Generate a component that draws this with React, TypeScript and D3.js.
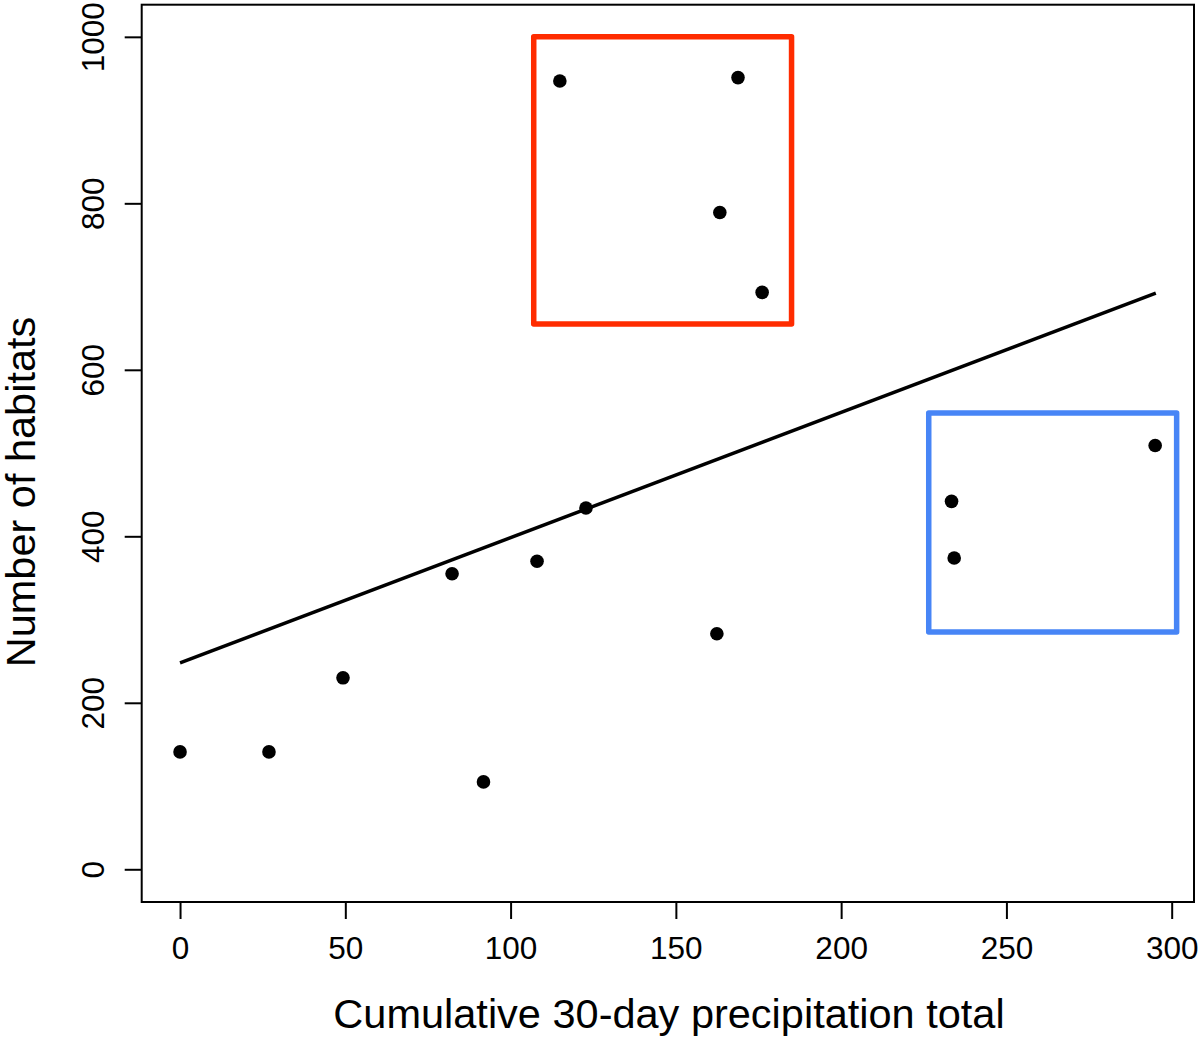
import { useEffect, useRef } from 'react'
import * as d3 from 'd3'

// precipitation (x) vs number of habitats (y)
const precip = [0, 26.9, 49.3, 82.3, 91.8, 108.0, 122.8, 114.9, 168.8, 163.3, 176.1, 162.4, 233.4, 234.2, 295.0]
const habitats = [141, 141, 230, 355, 105, 370, 434, 947, 951, 789, 693, 283, 442, 374, 509]

// fitted line endpoints
const fitX = [0, 295.2]
const fitY = [248, 692]

// highlighted regions [x0, x1, y0, y1]
const redBox = [107, 185, 655, 1000]
const blueBox = [226.5, 301.5, 285, 548]

const xTicks = [0, 50, 100, 150, 200, 250, 300]
const yTicks = [0, 200, 400, 600, 800, 1000]

export default function App() {
  const svgRef = useRef<SVGSVGElement>(null)

  useEffect(() => {
    if (!svgRef.current) return
    const svg = d3.select(svgRef.current)
    svg.selectAll('*').remove()

    const left = 141.7, right = 1194, top = 4.7, bottom = 902
    const font = '"Liberation Sans", Arial, Helvetica, sans-serif'

    const x = d3.scaleLinear().domain([-11.6, 306.75]).range([left, right])
    const y = d3.scaleLinear().domain([-39.3, 1038.6]).range([bottom, top])

    svg.append('rect')
      .attr('width', 1200)
      .attr('height', 1038)
      .attr('fill', '#fff')

    // fit line
    const line = d3.line<number>()
      .x(d => x(d))
      .y((_, i) => y(fitY[i]))
    svg.append('path')
      .datum(fitX)
      .attr('d', line)
      .attr('fill', 'none')
      .attr('stroke', '#000')
      .attr('stroke-width', 3.5)

    // boxes
    const boxes = [
      { b: redBox, color: '#ff2c00' },
      { b: blueBox, color: '#4785f6' },
    ]
    svg.selectAll('.hbox')
      .data(boxes)
      .join('rect')
      .attr('class', 'hbox')
      .attr('x', d => x(d.b[0]))
      .attr('y', d => y(d.b[3]))
      .attr('width', d => x(d.b[1]) - x(d.b[0]))
      .attr('height', d => y(d.b[2]) - y(d.b[3]))
      .attr('fill', 'none')
      .attr('stroke', d => d.color)
      .attr('stroke-width', 5.5)
      .attr('stroke-linejoin', 'round')

    // points
    svg.selectAll('.pt')
      .data(precip.map((p, i) => ({ p, h: habitats[i] })))
      .join('circle')
      .attr('class', 'pt')
      .attr('cx', d => x(d.p))
      .attr('cy', d => y(d.h))
      .attr('r', 6.8)
      .attr('fill', '#000')

    // X axis
    const gx = svg.append('g')
      .attr('transform', `translate(0,${bottom})`)
      .call(d3.axisBottom(x).tickValues(xTicks).tickSize(17).tickFormat(d3.format('d')))
    gx.select('.domain').remove()
    gx.selectAll('line').attr('stroke', '#000').attr('stroke-width', 2)
    gx.selectAll('text')
      .attr('y', 57)
      .attr('dy', 0)
      .attr('fill', '#000')
      .attr('font-size', 31.5)
      .attr('font-family', font)

    // Y axis
    const gy = svg.append('g')
      .attr('transform', `translate(${left},0)`)
      .call(d3.axisLeft(y).tickValues(yTicks).tickSize(17).tickFormat(d3.format('d')))
    gy.select('.domain').remove()
    gy.selectAll('line').attr('stroke', '#000').attr('stroke-width', 2)
    gy.selectAll('text')
      .attr('x', 0)
      .attr('y', 0)
      .attr('dy', 0)
      .attr('transform', 'translate(-38.2,0) rotate(-90)')
      .attr('text-anchor', 'middle')
      .attr('fill', '#000')
      .attr('font-size', 31.5)
      .attr('font-family', font)

    // plot box
    svg.append('rect')
      .attr('x', left)
      .attr('y', top)
      .attr('width', right - left)
      .attr('height', bottom - top)
      .attr('fill', 'none')
      .attr('stroke', '#000')
      .attr('stroke-width', 2)

    // titles
    svg.append('text')
      .attr('x', 669)
      .attr('y', 1028)
      .attr('text-anchor', 'middle')
      .attr('font-size', 41.5)
      .attr('font-family', font)
      .attr('fill', '#000')
      .text('Cumulative 30-day precipitation total')

    svg.append('text')
      .attr('transform', 'translate(35,492) rotate(-90)')
      .attr('text-anchor', 'middle')
      .attr('font-size', 41.5)
      .attr('font-family', font)
      .attr('fill', '#000')
      .text('Number of habitats')
  }, [])

  return (
    <svg
      ref={svgRef}
      width={1200}
      height={1038}
      style={{ position: 'absolute', left: 0, top: 0, display: 'block' }}
    />
  )
}
